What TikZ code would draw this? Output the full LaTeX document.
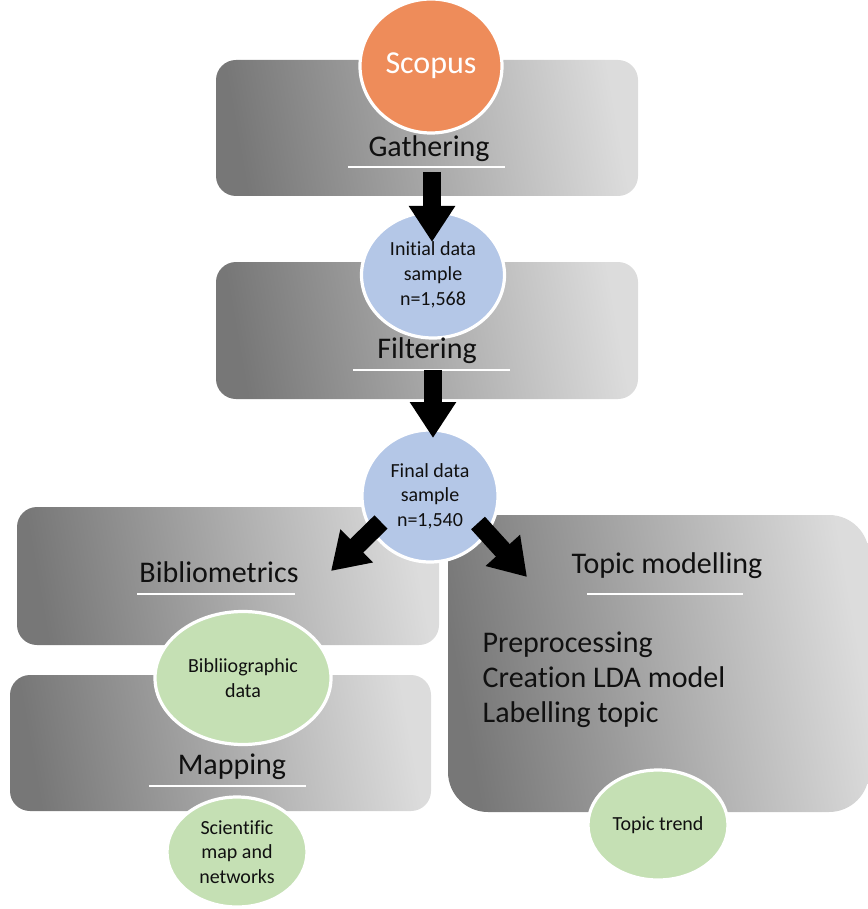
\documentclass[tikz,border=0pt]{standalone}
\usepackage{fontspec}
\setmainfont{Carlito}[Ligatures={NoCommon}]
\usetikzlibrary{shapes.geometric,arrows.meta}
\definecolor{gdark}{HTML}{777777}
\definecolor{glight}{HTML}{DCDCDC}
\definecolor{scopusor}{HTML}{EE8C5A}
\definecolor{dblue}{HTML}{B4C7E7}
\definecolor{dgreen}{HTML}{C5E0B4}
\definecolor{txt}{HTML}{101010}
\begin{document}
\begin{tikzpicture}[x=0.75pt,y=-0.75pt,
  stagebox/.style={rectangle, rounded corners=15pt, inner sep=0pt,
    left color=gdark, right color=glight, shading angle=100},
  datanode/.style={ellipse, draw=white, line width=2.4pt, inner sep=0pt,
    align=center, text=txt, font=\fontsize{15}{18.5}\selectfont},
  header/.style={anchor=base, text=txt, font=\fontsize{22.5}{27}\selectfont},
  bodytext/.style={anchor=base west, text=txt, font=\fontsize{22.5}{27}\selectfont},
  uline/.style={draw=white, line width=0.8pt},
  bigarrow/.style={draw=black, line width=14pt, -{Triangle[width=33pt,length=27pt]}}
]
\useasboundingbox (0,0) rectangle (867,909);

% stage boxes
\node[stagebox, minimum width=316.5pt, minimum height=102pt] (gatherbox) at (427,128) {};
\node[stagebox, minimum width=316.5pt, minimum height=102.75pt] (filterbox) at (427,330.5) {};
\node[stagebox, minimum width=316.5pt, minimum height=103.5pt] (biblibox) at (228,576) {};
\node[stagebox, minimum width=315.75pt, minimum height=102pt] (mapbox) at (220.5,743) {};
\node[stagebox, rounded corners=30pt, minimum width=315.75pt, minimum height=222.75pt] (topicbox) at (658.5,663.5) {};

% data ellipses
\node[datanode, fill=scopusor, minimum width=106.5pt, minimum height=100.5pt,
  text=white, font=\fontsize{24}{28}\selectfont] (scopus) at (431,66) {Scopus};
\node[datanode, fill=dblue, minimum width=107.25pt, minimum height=94.5pt] (initial) at (433,275)
  {Initial data\\sample\\n=1,568};
\node[datanode, fill=dblue, minimum width=102pt, minimum height=99pt] (final) at (430,496)
  {Final data\\sample\\n=1,540};
\node[datanode, fill=dgreen, minimum width=132pt, minimum height=99.75pt] (biblidata) at (243,678)
  {Bibliiographic\\data};
\node[datanode, fill=dgreen, minimum width=105pt, minimum height=82.5pt] (scimap) at (237,852)
  {Scientific\\map and\\networks};
\node[datanode, fill=dgreen, minimum width=105pt, minimum height=82.5pt] (trend) at (658,825)
  {Topic trend};

% headers
\node[header] (gathering) at (429,157) {Gathering};
\node[header] (filtering) at (427,358) {Filtering};
\node[header] (bibliometrics) at (219,582) {Bibliometrics};
\node[header] (mapping) at (232,774) {Mapping};
\node[header] (topicmod) at (667,573) {Topic modelling};

\draw[uline] (348,167) -- (505,167);
\draw[uline] (353,370) -- (510,370);
\draw[uline] (137,594) -- (295,594);
\draw[uline] (149,786) -- (306,786);
\draw[uline] (587,594) -- (743,594);

% topic modelling steps
\node[bodytext] (step1) at (478,652) {Preprocessing};
\node[bodytext] (step2) at (478,687) {Creation LDA model};
\node[bodytext] (step3) at (478,722) {Labelling topic};

% arrows
\coordinate (a1s) at (432,172); \coordinate (a1e) at (432,242);
\coordinate (a2s) at (433,370); \coordinate (a2e) at (433,438);
\coordinate (a3s) at (381,522); \coordinate (a3e) at (331,571);
\coordinate (a4s) at (478,523); \coordinate (a4e) at (527,577);
\draw[bigarrow] (a1s) -- (a1e);
\draw[bigarrow] (a2s) -- (a2e);
\draw[bigarrow] (a3s) -- (a3e);
\draw[bigarrow] (a4s) -- (a4e);
\end{tikzpicture}
\end{document}
